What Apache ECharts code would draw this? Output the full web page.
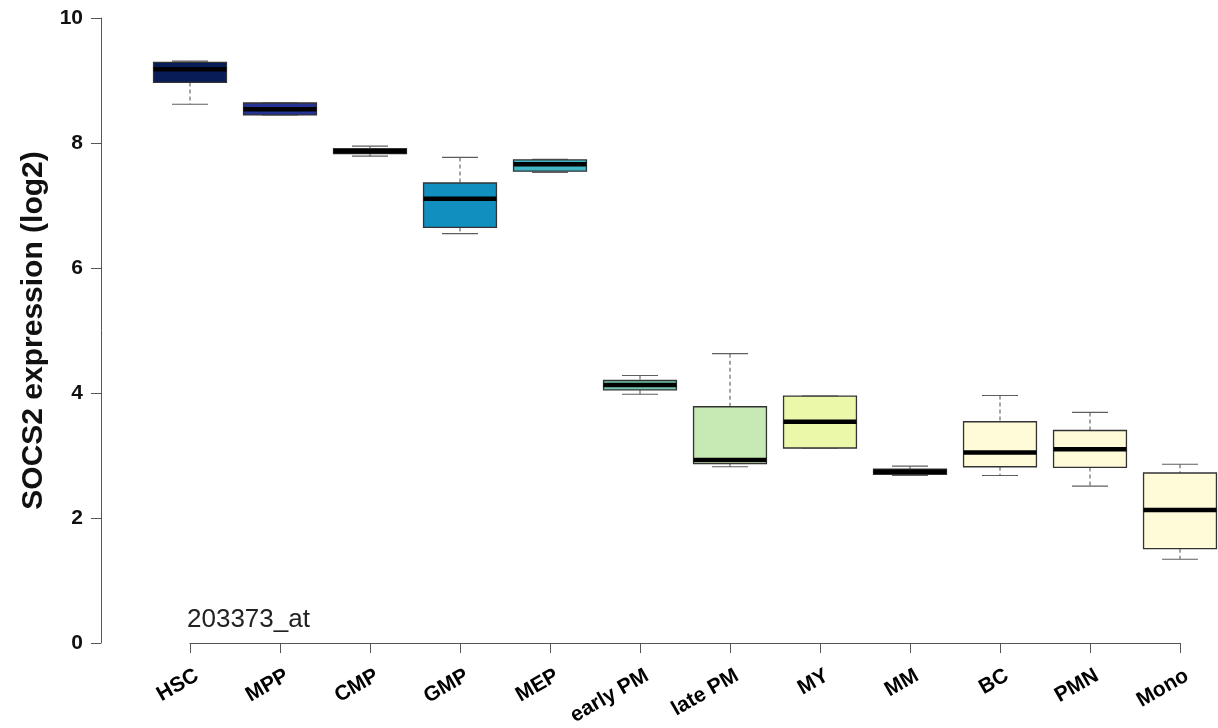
<!DOCTYPE html>
<html>
<head>
<meta charset="utf-8">
<title>SOCS2 expression</title>
<script src="https://cdn.jsdelivr.net/npm/echarts@6/dist/echarts.min.js"></script>
<style>
  html, body { margin: 0; padding: 0; background: #ffffff; }
  #chart { width: 1218px; height: 728px; }
</style>
</head>
<body>
<div id="chart"></div>
<script>
// Cell populations along the myeloid differentiation path
const categories = ['HSC', 'MPP', 'CMP', 'GMP', 'MEP', 'early PM', 'late PM', 'MY', 'MM', 'BC', 'PMN', 'Mono'];

// Five-number summaries of SOCS2 expression (log2) per population
const lowerWhisker = [8.62, 8.45, 7.79, 6.55, 7.53, 3.98, 2.82, 3.12, 2.68, 2.68, 2.51, 1.34];
const lowerQuartile = [8.97, 8.45, 7.83, 6.65, 7.55, 4.05, 2.87, 3.12, 2.70, 2.82, 2.81, 1.51];
const medians = [9.18, 8.54, 7.87, 7.11, 7.66, 4.13, 2.93, 3.54, 2.74, 3.05, 3.10, 2.13];
const upperQuartile = [9.29, 8.64, 7.91, 7.36, 7.73, 4.20, 3.78, 3.95, 2.78, 3.54, 3.40, 2.72];
const upperWhisker = [9.31, 8.64, 7.95, 7.77, 7.74, 4.28, 4.63, 3.95, 2.83, 3.96, 3.69, 2.86];

// Box fill per population
const boxColors = ['#081d58', '#253494', '#225ea8', '#1190c0', '#41b6c4', '#72c8b2',
                   '#c7e9b4', '#ebf8aa', '#fdfbd4', '#fffad8', '#fffad8', '#fffad8'];

const yTicks = [0, 2, 4, 6, 8, 10];
const probeId = '203373_at';

const FONT = "'Liberation Sans', Arial, Helvetica, sans-serif";
const BOX_HALF = 0.405;   // half box width in category units
const CAP_HALF = 0.2;     // half whisker-cap width

const boxData = categories.map((c, i) => [
  i + 1, lowerWhisker[i], lowerQuartile[i], medians[i], upperQuartile[i], upperWhisker[i]
]);

function renderBox(params, api) {
  const x = api.value(0);
  const lo = api.value(1), q1 = api.value(2), md = api.value(3), q3 = api.value(4), hi = api.value(5);
  const pLo = api.coord([x, lo]);
  const pHi = api.coord([x, hi]);
  const pQ1 = api.coord([x, q1]);
  const pQ3 = api.coord([x, q3]);
  const pMd = api.coord([x, md]);
  const left = api.coord([x - BOX_HALF, md])[0];
  const right = api.coord([x + BOX_HALF, md])[0];
  const capL = api.coord([x - CAP_HALF, md])[0];
  const capR = api.coord([x + CAP_HALF, md])[0];
  const cx = pMd[0];
  const whiskerStyle = { stroke: '#6a6a6a', lineWidth: 1.2, lineDash: [4, 3] };
  const capStyle = { stroke: '#5e5e5e', lineWidth: 1.2 };
  const children = [];
  if (pHi[1] < pQ3[1]) {
    children.push({ type: 'line', shape: { x1: cx, y1: pHi[1], x2: cx, y2: pQ3[1] }, style: whiskerStyle });
  }
  if (pLo[1] > pQ1[1]) {
    children.push({ type: 'line', shape: { x1: cx, y1: pQ1[1], x2: cx, y2: pLo[1] }, style: whiskerStyle });
  }
  children.push({ type: 'line', shape: { x1: capL, y1: pHi[1], x2: capR, y2: pHi[1] }, style: capStyle });
  children.push({ type: 'line', shape: { x1: capL, y1: pLo[1], x2: capR, y2: pLo[1] }, style: capStyle });
  children.push({
    type: 'rect',
    shape: { x: left, y: pQ3[1], width: right - left, height: pQ1[1] - pQ3[1] },
    style: { fill: boxColors[params.dataIndex], stroke: '#333333', lineWidth: 1.3 }
  });
  children.push({
    type: 'line',
    shape: { x1: left, y1: pMd[1], x2: right, y2: pMd[1] },
    style: { stroke: '#000000', lineWidth: 4.5 }
  });
  return { type: 'group', children: children };
}

const chart = echarts.init(document.getElementById('chart'), null, { renderer: 'canvas' });

chart.setOption({
  animation: false,
  backgroundColor: '#ffffff',
  grid: [
    // plotting area
    { left: 190, right: 38, top: 18, bottom: 85, containLabel: false },
    // label strip for the rotated category names, nudged to sit under the ticks
    { left: 197, right: 31, top: 18, bottom: 85, containLabel: false }
  ],
  xAxis: [{
    type: 'value',
    gridIndex: 0,
    min: 1,
    max: categories.length,
    interval: 1,
    offset: 3,
    splitLine: { show: false },
    axisLine: { show: true, lineStyle: { color: '#555555', width: 1 } },
    axisTick: { show: true, length: 10, lineStyle: { color: '#555555', width: 1 } },
    axisLabel: { show: false }
  }, {
    type: 'value',
    gridIndex: 1,
    min: 1,
    max: categories.length,
    interval: 1,
    offset: 10,
    splitLine: { show: false },
    axisLine: { show: false },
    axisTick: { show: false },
    axisLabel: {
      rotate: 30,
      margin: 22,
      color: '#000000',
      fontFamily: FONT,
      fontWeight: 'bold',
      fontSize: 21,
      formatter: function (v) { return categories[Math.round(v) - 1] || ''; }
    }
  }],
  yAxis: [{
    type: 'value',
    gridIndex: 0,
    min: yTicks[0],
    max: yTicks[yTicks.length - 1],
    interval: 2,
    offset: 89,
    name: 'SOCS2 expression (log2)',
    nameLocation: 'middle',
    nameGap: 50,
    nameRotate: 90,
    nameTextStyle: { color: '#111111', fontFamily: FONT, fontWeight: 'bold', fontSize: 30 },
    splitLine: { show: false },
    axisLine: { show: true, lineStyle: { color: '#555555', width: 1 } },
    axisTick: { show: true, length: 10, lineStyle: { color: '#555555', width: 1 } },
    axisLabel: {
      margin: 18,
      color: '#111111',
      fontFamily: FONT,
      fontWeight: 'bold',
      fontSize: 21
    }
  }, {
    type: 'value',
    gridIndex: 1,
    min: 0,
    max: 10,
    show: false
  }],
  graphic: [{
    type: 'text',
    left: 187,
    top: 607,
    style: { text: probeId, fill: '#222222', font: "26px 'Liberation Sans', Arial, sans-serif" }
  }],
  series: [{
    type: 'custom',
    xAxisIndex: 0,
    yAxisIndex: 0,
    renderItem: renderBox,
    clip: false,
    encode: { x: 0, y: [1, 2, 3, 4, 5] },
    data: boxData
  }]
});
</script>
</body>
</html>
